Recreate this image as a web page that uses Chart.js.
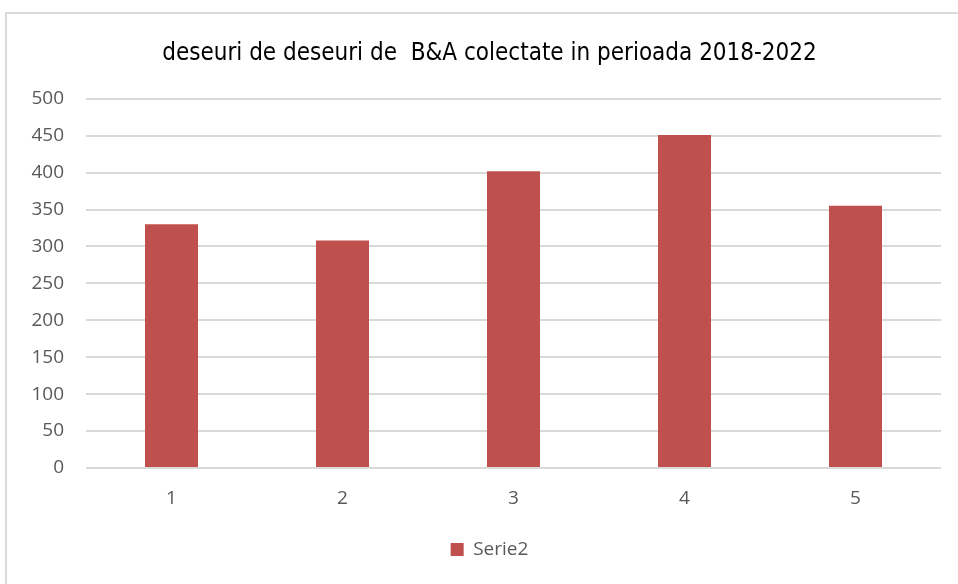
<!DOCTYPE html>
<html>
<head>
<meta charset="utf-8">
<script src="https://cdn.jsdelivr.net/npm/chart.js@4"></script>
<style>
  html, body { margin: 0; padding: 0; background: #ffffff; overflow: hidden; }
  #wrap { position: absolute; left: 0; top: 0; width: 958px; height: 584px; }
</style>
</head>
<body>
<div id="wrap"><canvas id="c" width="958" height="584"></canvas></div>
<script>
const categories = ['1', '2', '3', '4', '5'];
const seriesName = 'Serie2';
const serie2 = [330, 308, 402, 451, 355];
const yTicks = [0, 50, 100, 150, 200, 250, 300, 350, 400, 450, 500];
const titleText = 'deseuri de deseuri de  B&A colectate in perioada 2018-2022';

const frame = {
  id: 'frame',
  afterLayout(chart) {
    // let the y tick labels use the space left of the axis box
    chart.scales.y.left = 0;
  },
  beforeDraw(chart) {
    const ctx = chart.ctx;
    ctx.save();
    ctx.fillStyle = '#ffffff';
    ctx.fillRect(0, 0, chart.width, chart.height);
    ctx.strokeStyle = '#D9D9D9';
    ctx.lineWidth = 2;
    ctx.strokeRect(6, 13, 1000, 1000);
    ctx.restore();
  }
};

const tickFont = { family: "'Open Sans', sans-serif", size: 19 };

new Chart(document.getElementById('c'), {
  type: 'bar',
  data: {
    labels: categories,
    datasets: [{
      label: seriesName,
      data: serie2,
      backgroundColor: '#C0504D',
      borderColor: '#C0504D',
      borderWidth: 0,
      categoryPercentage: 1.0,
      barPercentage: 0.31
    }]
  },
  options: {
    responsive: false,
    animation: false,
    devicePixelRatio: 1,
    layout: { padding: { left: 38, right: 17, top: 0, bottom: 15 } },
    plugins: {
      title: {
        display: true,
        text: titleText,
        color: '#000000',
        font: { family: "'Liberation Sans Narrow', 'DejaVu Sans Condensed', sans-serif", size: 24, weight: 'normal' },
        padding: { top: 39, bottom: 31 }
      },
      legend: {
        display: true,
        position: 'bottom',
        labels: {
          color: '#595959',
          font: tickFont,
          boxWidth: 13,
          boxHeight: 13,
          padding: 10
        }
      },
      tooltip: { enabled: false }
    },
    scales: {
      x: {
        afterFit(scale) { scale.height = 62; },
        grid: { display: false, drawTicks: false },
        border: { display: false },
        ticks: {
          color: '#595959',
          font: tickFont,
          padding: 19
        }
      },
      y: {
        min: 0,
        max: 500,
        afterBuildTicks(scale) { scale.ticks = yTicks.map(v => ({ value: v })); },
        afterFit(scale) { scale.width = 48; },
        grid: { color: '#D9D9D9', lineWidth: 2, drawTicks: false },
        border: { display: false },
        ticks: {
          color: '#595959',
          font: tickFont,
          padding: 22
        }
      }
    }
  },
  plugins: [frame]
});
</script>
</body>
</html>
